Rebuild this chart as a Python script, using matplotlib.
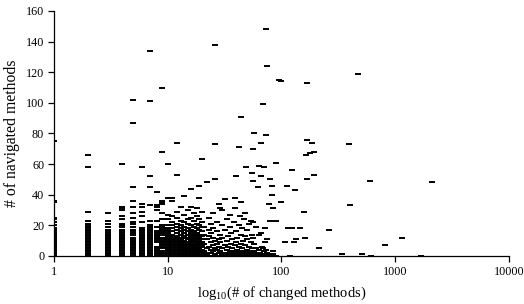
import matplotlib
matplotlib.use("Agg")
import matplotlib.pyplot as plt
from matplotlib.ticker import FixedLocator, FixedFormatter, NullLocator

plt.rcParams['font.family'] = ['Liberation Serif', 'DejaVu Serif']
plt.rcParams['mathtext.fontset'] = 'custom'
plt.rcParams['mathtext.rm'] = 'Liberation Serif'

# ---- data: columns of points at small integer x (changed methods) ----
column_xs = [1, 2, 3, 4, 5, 6, 7, 8, 9, 10, 11, 12, 13, 14, 15, 16, 17, 18, 19, 20]
column_ys = [
    [0, 1, 2, 3, 4, 5, 6, 7, 8, 9, 10, 11, 12, 13, 14, 15, 16, 17, 18, 20, 22, 24, 25, 35, 36, 75],
    [0, 1, 2, 3, 4, 5, 6, 7, 8, 9, 10, 11, 12, 13, 14, 15, 16, 17, 18, 19, 20, 21, 23, 29, 58, 66],
    [0, 1, 2, 3, 4, 5, 6, 7, 8, 9, 10, 11, 12, 13, 14, 15, 16, 17, 19, 21, 23, 28],
    [0, 1, 2, 3, 4, 5, 6, 7, 8, 9, 10, 11, 12, 13, 14, 15, 16, 17, 19, 20, 21, 24, 26, 30, 31, 32, 60],
    [0, 1, 2, 3, 4, 5, 6, 7, 8, 9, 10, 11, 12, 14, 15, 16, 17, 19, 21, 22, 25, 28, 32, 36, 45, 87, 102],
    [0, 1, 2, 3, 4, 5, 6, 7, 8, 9, 10, 11, 12, 13, 14, 15, 16, 17, 18, 22, 26, 29, 32, 34, 58],
    [0, 1, 2, 3, 4, 5, 6, 7, 8, 9, 10, 11, 12, 13, 14, 15, 16, 17, 18, 19, 20, 23, 33, 45, 52, 101, 134],
    [0, 1, 2, 3, 4, 5, 6, 9, 10, 11, 12, 13, 14, 15, 16, 19, 23, 30, 32, 33, 42],
    [0, 1, 2, 3, 5, 6, 7, 8, 9, 10, 11, 12, 14, 15, 16, 17, 18, 19, 20, 24, 28, 34, 35, 36, 68, 110],
    [0, 1, 2, 3, 4, 5, 6, 7, 8, 9, 10, 11, 12, 13, 14, 15, 16, 17, 18, 20, 24, 27, 38, 60],
    [0, 1, 2, 3, 4, 5, 6, 7, 8, 9, 10, 11, 12, 13, 14, 16, 18, 20, 22, 26, 36, 38],
    [0, 1, 2, 3, 4, 5, 6, 7, 8, 9, 10, 11, 12, 13, 15, 17, 19, 21, 25, 29, 53, 74],
    [0, 1, 2, 3, 4, 5, 6, 7, 8, 9, 10, 11, 12, 14, 16, 18, 20, 23, 32],
    [0, 1, 2, 3, 4, 5, 6, 7, 8, 9, 10, 12, 13, 15, 17, 19, 22, 27, 39],
    [0, 1, 2, 3, 4, 5, 6, 7, 8, 9, 11, 12, 14, 16, 18, 21, 24, 30],
    [0, 1, 2, 3, 4, 5, 6, 7, 8, 10, 11, 13, 15, 17, 20, 25, 32, 44],
    [0, 1, 2, 3, 4, 5, 6, 7, 9, 10, 12, 14, 16, 19, 23, 28],
    [0, 1, 2, 3, 4, 5, 6, 8, 9, 11, 13, 15, 18, 21, 26, 31],
    [0, 1, 2, 3, 4, 5, 7, 8, 10, 12, 14, 17, 20, 24, 38, 46],
    [0, 1, 2, 3, 4, 6, 7, 9, 11, 13, 16, 19, 22, 29, 63],
]

# ---- data: scattered points for larger x ----
scatter_x = [21, 21, 21, 21, 21, 22, 22, 22, 22, 22, 23, 23, 23, 23, 23, 24, 24, 24, 24, 24,
             25, 25, 25, 25, 25, 25, 26, 26, 26, 26, 26, 26, 27, 27, 27, 27, 27, 28, 28, 28, 28,
             29, 29, 29, 29, 29, 30, 30, 30, 30, 30, 32, 32, 32, 32, 32, 33, 33, 33, 34, 34, 34,
             35, 35, 35, 35, 36, 36, 36, 37, 37, 37, 38, 38, 38, 39, 39, 39, 39, 40, 40, 40, 40,
             41, 41, 41, 42, 42, 42, 42, 43, 43, 44, 44, 44, 44, 44, 45, 45, 45, 46, 46, 47, 47, 47,
             48, 48, 48, 48, 49, 49, 50, 50, 50, 50, 52, 52, 52, 53, 53, 54, 54, 54, 55, 55, 55, 55,
             56, 56, 56, 56, 56, 58, 58, 58, 58, 60, 60, 60, 62, 62, 63, 63, 63, 64, 65, 65, 66, 66, 66,
             68, 68, 69, 69, 69, 70, 70, 72, 72, 72, 73, 73, 73, 73, 74, 74, 75, 76, 78, 78, 79, 80, 80,
             82, 83, 85, 85, 85, 89, 89, 90, 95, 100, 100, 107, 113, 114, 118, 123, 125, 129, 133, 135,
             145, 158, 160, 164, 167, 167, 168, 178, 185, 193, 194, 213, 262, 340, 392, 400, 470, 510,
             600, 620, 810, 1150, 1700, 2100]
scatter_y = [0, 3, 8, 14, 19, 1, 2, 5, 11, 48, 0, 6, 13, 17, 25, 2, 4, 9, 15, 21,
             0, 3, 7, 12, 18, 28, 1, 5, 10, 50, 73, 138, 0, 4, 8, 16, 22, 2, 6, 11, 34,
             0, 3, 9, 14, 31, 1, 5, 12, 20, 30, 0, 2, 7, 17, 37, 4, 10, 24, 1, 6, 13,
             0, 3, 19, 27, 2, 8, 15, 0, 5, 11, 1, 3, 22, 0, 7, 31, 38, 2, 9, 16, 52,
             0, 4, 12, 1, 6, 20, 71, 3, 26, 0, 8, 14, 35, 91, 2, 5, 18, 0, 10, 1, 3, 24,
             0, 7, 13, 28, 2, 58, 0, 4, 11, 17, 1, 6, 21, 0, 3, 2, 9, 23, 0, 5, 14, 54,
             1, 12, 22, 49, 70, 0, 3, 8, 80, 2, 5, 19, 0, 45, 1, 14, 59, 4, 0, 2, 15, 52, 74,
             1, 6, 0, 5, 99, 3, 58, 0, 9, 18, 1, 4, 79, 148, 11, 124, 2, 0, 1, 34, 50, 0, 23,
             40, 46, 1, 3, 31, 23, 61, 0, 115, 35, 114, 9, 46, 18, 0, 18, 56, 9, 43, 11,
             18, 29, 12, 66, 50, 76, 113, 67, 74, 68, 53, 5, 17, 1, 73, 33, 119, 1,
             49, 0, 7, 12, 0, 48]

x_tick_values = [1, 10, 100, 1000, 10000]
x_tick_labels = ["1", "10", "100", "1000", "10000"]
y_tick_values = [0, 20, 40, 60, 80, 100, 120, 140, 160]

fig = plt.figure(figsize=(5.24, 3.04), dpi=100)
ax = fig.add_axes([0.103, 0.158, 0.868, 0.806])

mk = dict(marker='_', linestyle='none', color='black', markersize=3.8, markeredgewidth=1.4)
for cx, cys in zip(column_xs, column_ys):
    ax.plot([cx] * len(cys), cys, **mk)
ax.plot(scatter_x, scatter_y, **mk)

ax.set_xscale('log')
ax.set_xlim(1, 10000)
ax.set_ylim(0, 160)
ax.xaxis.set_major_locator(FixedLocator(x_tick_values))
ax.xaxis.set_major_formatter(FixedFormatter(x_tick_labels))
ax.xaxis.set_minor_locator(NullLocator())
ax.set_yticks(y_tick_values)

for s in ['top', 'right']:
    ax.spines[s].set_visible(False)
for s in ['left', 'bottom']:
    ax.spines[s].set_linewidth(0.9)
ax.tick_params(axis='both', direction='out', length=4, width=0.9, labelsize=8.7, pad=3)

ax.set_xlabel(r"log$_{10}$(# of changed methods)", fontsize=10.5, labelpad=5)
ax.set_ylabel("# of navigated methods", fontsize=11.3, labelpad=4)

fig.savefig("out.png", dpi=100)
